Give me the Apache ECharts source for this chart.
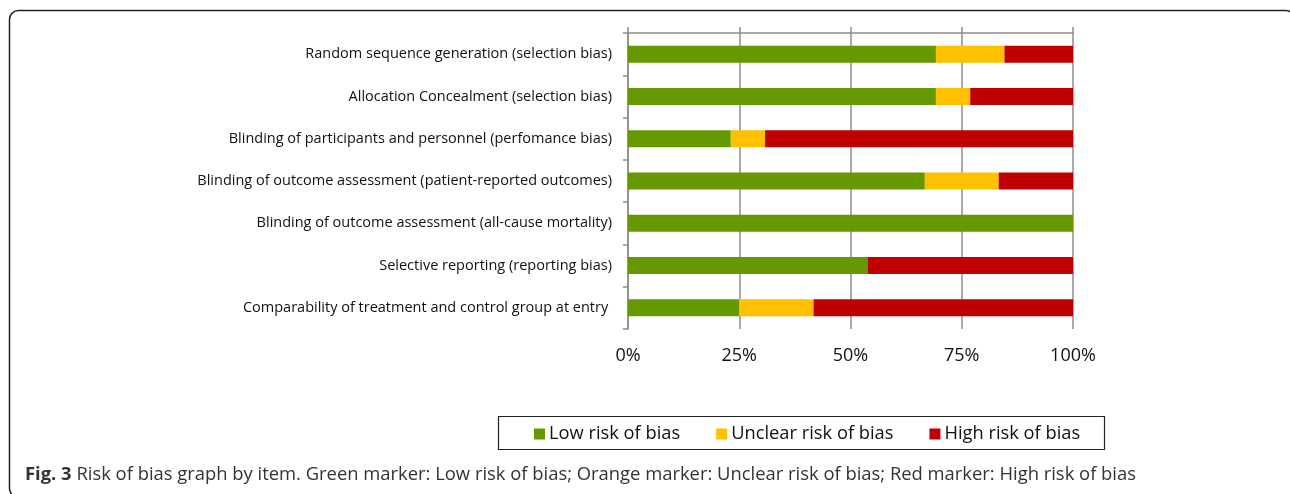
<!DOCTYPE html>
<html>
<head>
<meta charset="utf-8">
<script src="https://cdn.jsdelivr.net/npm/echarts@6/dist/echarts.min.js"></script>
<style>
  html, body { margin: 0; padding: 0; background: #fff; }
  #chart { width: 1290px; height: 494px; }
</style>
</head>
<body>
<div id="chart"></div>
<script>
// risk of bias items, top to bottom
const items = [
  'Random sequence generation (selection bias)',
  'Allocation Concealment (selection bias)',
  'Blinding of participants and personnel (perfomance bias)',
  'Blinding of outcome assessment (patient-reported outcomes)',
  'Blinding of outcome assessment (all-cause mortality)',
  'Selective reporting (reporting bias)',
  'Comparability of treatment and control group at entry '
];
// share of studies, in %
const lowRisk = [69.2, 69.2, 23.1, 66.7, 100, 53.8, 25.0];
const unclearRisk = [15.4, 7.7, 7.7, 16.6, 0, 0, 16.7];
const highRisk = [15.4, 23.1, 69.2, 16.7, 0, 46.2, 58.3];
const xTicks = [0, 25, 50, 75, 100];

const seriesNames = ['Low risk of bias', 'Unclear risk of bias', 'High risk of bias'];
const colors = ['#669900', '#FFC000', '#C00000'];

const chart = echarts.init(document.getElementById('chart'));

function barSeries(name, data, color) {
  return {
    name: name,
    type: 'bar',
    stack: 'risk',
    barWidth: 17,
    data: data,
    itemStyle: { color: color },
    emphasis: { disabled: true }
  };
}

const option = {
  animation: false,
  color: colors,
  grid: { left: 628, right: 217, top: 33, bottom: 165, containLabel: false },
  xAxis: [
    {
      type: 'value', min: 0, max: 100, interval: 25, position: 'top',
      axisLine: { show: true, lineStyle: { color: '#8c8c8c', width: 1.5 } },
      axisTick: { show: true, inside: false, length: 6, lineStyle: { color: '#8c8c8c', width: 1.5 } },
      axisLabel: { show: false },
      splitLine: { show: true, lineStyle: { color: '#8c8c8c', width: 1.5 } }
    },
    {
      type: 'value', min: 0, max: 100, interval: 25, position: 'bottom',
      axisLine: { show: false },
      axisTick: { show: false },
      splitLine: { show: false },
      axisLabel: {
        margin: 18,
        fontFamily: 'Open Sans', fontSize: 18, color: '#111',
        formatter: function (v) { return xTicks.indexOf(v) >= 0 ? v + '%' : ''; }
      }
    }
  ],
  yAxis: {
    type: 'category',
    data: items,
    inverse: true,
    axisLine: { show: true, lineStyle: { color: '#8c8c8c', width: 1.5 } },
    axisTick: { show: true, length: 5, lineStyle: { color: '#8c8c8c', width: 1.5 } },
    axisLabel: { margin: 16, fontFamily: 'Open Sans', fontSize: 14.5, color: '#111', padding: [3, 0, 0, 0] },
    splitLine: { show: false }
  },
  legend: {
    left: 529, top: 420,
    data: seriesNames,
    icon: 'rect',
    itemWidth: 11, itemHeight: 11,
    itemGap: 36,
    textStyle: { fontFamily: 'Open Sans', fontSize: 18.3, color: '#111', padding: [0, 0, 0, -1] },
    selectedMode: false
  },
  tooltip: { show: false },
  graphic: [
    {
      type: 'rect', silent: true, z: -1,
      shape: { x: 9.5, y: 10.5, width: 1285, height: 487, r: 9 },
      style: { fill: 'none', stroke: '#222', lineWidth: 1.5 }
    },
    {
      type: 'rect', silent: true,
      shape: { x: 498.5, y: 416.5, width: 606, height: 33 },
      style: { fill: 'none', stroke: '#222', lineWidth: 1.2 }
    },
    {
      type: 'text', silent: true, left: 25, top: 466,
      style: {
        text: '{b|Fig. 3} Risk of bias graph by item. Green marker: Low risk of bias; Orange marker: Unclear risk of bias; Red marker: High risk of bias',
        font: '18.4px "Open Sans"', fill: '#333',
        rich: {
          b: { fontFamily: 'Open Sans', fontSize: 18.4, fontWeight: 'bold', fill: '#333' }
        }
      }
    }
  ],
  series: [
    barSeries(seriesNames[0], lowRisk, colors[0]),
    barSeries(seriesNames[1], unclearRisk, colors[1]),
    barSeries(seriesNames[2], highRisk, colors[2])
  ]
};

chart.setOption(option);
</script>
</body>
</html>
